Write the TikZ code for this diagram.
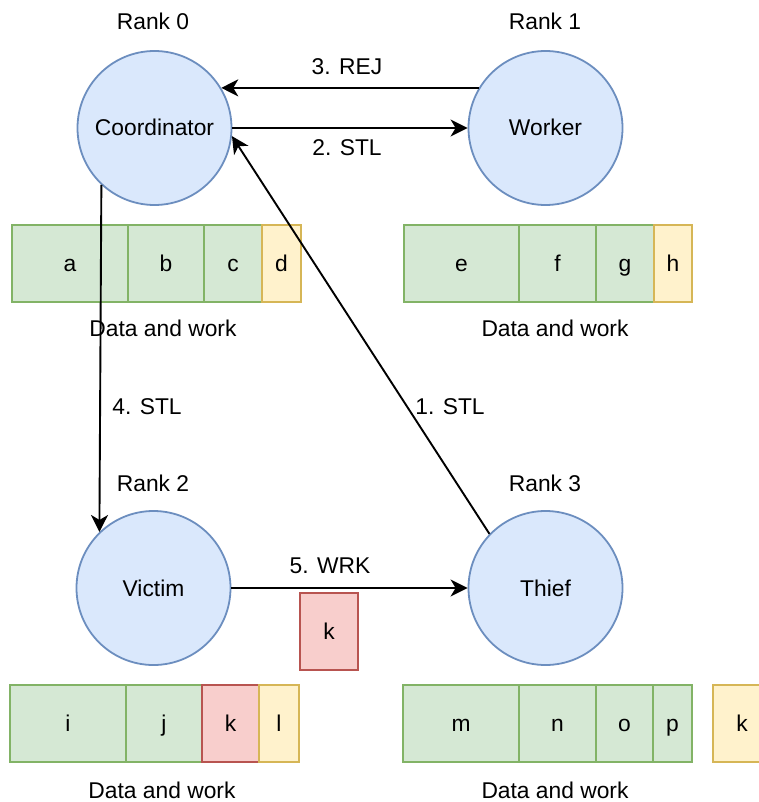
\documentclass[tikz,border=0pt]{standalone}
\usepackage{fontspec}
\setmainfont{Liberation Sans}
\usetikzlibrary{arrows.meta}
\definecolor{bluefill}{HTML}{DAE8FC}
\definecolor{bluedraw}{HTML}{6C8EBF}
\definecolor{greenfill}{HTML}{D5E8D4}
\definecolor{greendraw}{HTML}{82B366}
\definecolor{yellowfill}{HTML}{FFF2CC}
\definecolor{yellowdraw}{HTML}{D6B656}
\definecolor{redfill}{HTML}{F8CECC}
\definecolor{reddraw}{HTML}{B85450}
\tikzset{
  txt/.style={font=\fontsize{22.8}{27}\selectfont, inner sep=0pt,
    text height=20.5pt, text depth=4.5pt},
  rank/.style={circle, draw=bluedraw, fill=bluefill, line width=1.8pt,
    minimum size=154pt, inner sep=0pt, txt},
  cell/.style={line width=1.8pt, minimum height=77pt, inner sep=0pt, txt},
  gcell/.style={cell, draw=greendraw, fill=greenfill},
  ycell/.style={cell, draw=yellowdraw, fill=yellowfill},
  rcell/.style={cell, draw=reddraw, fill=redfill},
  msg/.style={line width=1.9pt, -{Stealth[length=17pt, width=17pt, inset=5pt]}},
}
\begin{document}
\begin{tikzpicture}[x=1pt, y=-1pt]
\useasboundingbox (0,0) rectangle (759,802);

% processes
\node[rank] (coord)  at (154.5,128) {Coordinator};
\node[rank] (worker) at (545.5,128) {Worker};
\node[rank] (victim) at (153.5,588) {Victim};
\node[rank] (thief)  at (545.5,588) {Thief};

\node[txt] (r0) at (153,22)  {Rank 0};
\node[txt] (r1) at (545,22)  {Rank 1};
\node[txt] (r2) at (153,483) {Rank 2};
\node[txt] (r3) at (545,483) {Rank 3};

% work queues of rank 0 and rank 1
\node[gcell, minimum width=116pt] (a) at (70,263.5)    {a};
\node[gcell, minimum width=76pt]  (b) at (166,263.5)   {b};
\node[gcell, minimum width=58pt]  (c) at (233,263.5)   {c};
\node[ycell, minimum width=39pt]  (d) at (281.5,263.5) {d};
\node[txt] (dw0) at (163,328) {Data and work};

\node[gcell, minimum width=115pt] (e) at (461.5,263.5) {e};
\node[gcell, minimum width=77pt]  (f) at (557.5,263.5) {f};
\node[gcell, minimum width=58pt]  (g) at (625,263.5)   {g};
\node[ycell, minimum width=38pt]  (h) at (673,263.5)   {h};
\node[txt] (dw1) at (555,328) {Data and work};

% work queues of rank 2 and rank 3
\node[gcell, minimum width=116pt] (i) at (68,723.5)    {i};
\node[gcell, minimum width=76pt]  (j) at (164,723.5)   {j};
\node[rcell, minimum width=57pt]  (k) at (230.5,723.5) {k};
\node[ycell, minimum width=40pt]  (l) at (279,723.5)   {l};
\node[txt] (dw2) at (162,790) {Data and work};

\node[gcell, minimum width=116pt] (m) at (461,723.5)   {m};
\node[gcell, minimum width=77pt]  (n) at (557.5,723.5) {n};
\node[gcell, minimum width=57pt]  (o) at (624.5,723.5) {o};
\node[gcell, minimum width=39pt]  (p) at (672.5,723.5) {p};
\node[ycell, minimum width=58pt]  (kin) at (742,723.5) {k};
\node[txt] (dw3) at (555,790) {Data and work};

% task in transit
\node[rcell, minimum width=58pt] (kmsg) at (329,631.5) {k};

% messages
\draw[msg] (thief.136) -- (coord.-6);
\node[txt] (l1) at (450,406) {1. STL};

\draw[msg] (coord.east) -- (worker.west);
\node[txt] (l2) at (347,148) {2. STL};

\draw[msg] (worker.149) -- (coord.31);
\node[txt] (l3) at (347,67) {3. REJ};

\draw[msg] (coord.227) -- (victim.134);
\node[txt] (l4) at (147,406) {4. STL};

\draw[msg] (victim.east) -- (thief.west);
\node[txt] (l5) at (330,565) {5. WRK};
\end{tikzpicture}
\end{document}
